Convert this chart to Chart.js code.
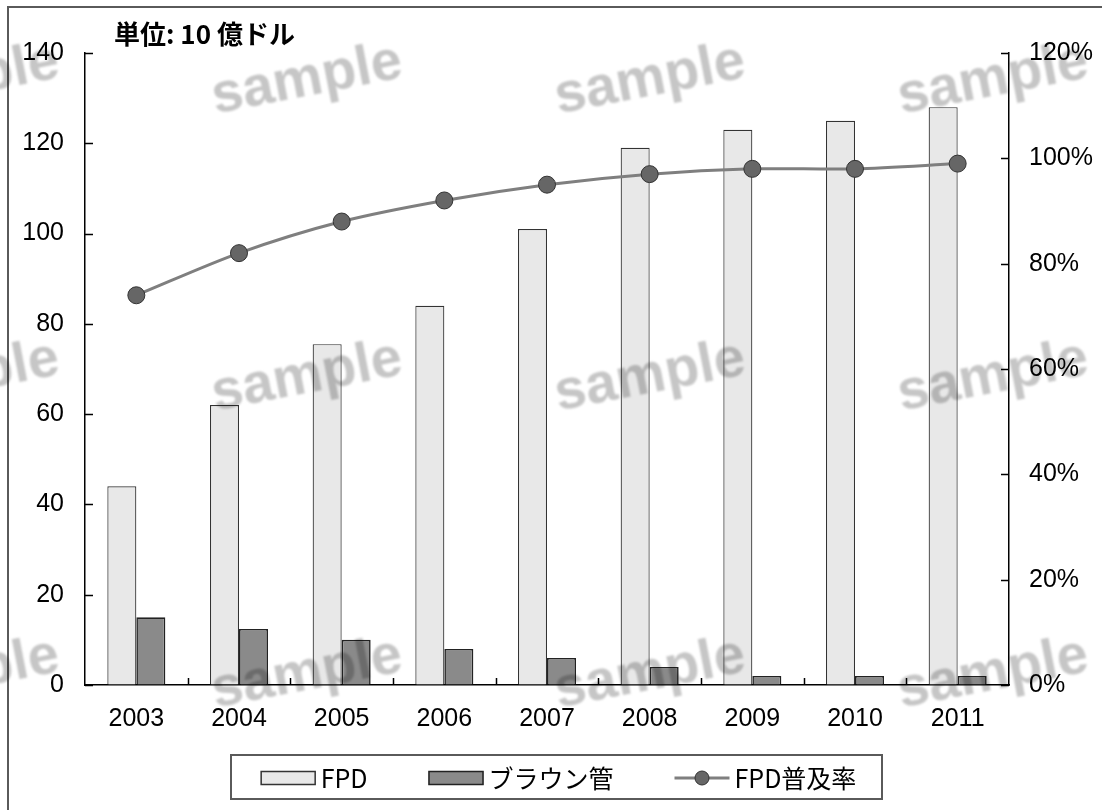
<!DOCTYPE html>
<html>
<head>
<meta charset="utf-8">
<script src="https://cdn.jsdelivr.net/npm/chart.js@4"></script>
<style>
  html, body { margin: 0; padding: 0; background: #fff; }
  #wrap { width: 1102px; height: 810px; position: relative; }
</style>
</head>
<body>
<div id="wrap"><canvas id="c" width="1102" height="810"></canvas></div>
<script>
// ---- data ----
const years = ['2003', '2004', '2005', '2006', '2007', '2008', '2009', '2010', '2011'];
const fpdSales = [44, 62, 75.5, 84, 101, 119, 123, 125, 128];      // 10億ドル
const crtSales = [15, 12.4, 10, 8, 6, 4, 2, 2, 2];                // 10億ドル
const fpdShare = [74, 82, 88, 92, 95, 97, 98, 98, 99];            // %
const leftTicks = [0, 20, 40, 60, 80, 100, 120, 140];
const rightTicks = [0, 20, 40, 60, 80, 100, 120];
const seriesNames = ['FPD', 'ブラウン管', 'FPD普及率'];
const unitLabel = '単位: 10 億ドル';
const stampText = 'sample';

const NUM_FONT = '"Liberation Sans", Arial, sans-serif';
const JP_FONT = '"Noto Sans CJK JP", "Noto Sans", sans-serif';

// outer frame + unit caption
const framePlugin = {
  id: 'frame',
  beforeDraw(chart) {
    const ctx = chart.ctx;
    ctx.save();
    ctx.fillStyle = '#fff';
    ctx.fillRect(0, 0, chart.width, chart.height);
    ctx.strokeStyle = '#5a5a5a';
    ctx.lineWidth = 2;
    ctx.strokeRect(8, 7, chart.width + 20, chart.height + 20);
    ctx.restore();
  },
  afterDraw(chart) {
    const ctx = chart.ctx;
    ctx.save();
    ctx.fillStyle = '#000';
    ctx.font = 'bold 26px ' + JP_FONT;
    ctx.textBaseline = 'middle';
    ctx.textAlign = 'left';
    ctx.fillText(unitLabel, 114, 34);
    ctx.restore();
  }
};

// inward tick marks on all three axes
const tickPlugin = {
  id: 'inTicks',
  afterDatasetsDraw(chart) {
    const ctx = chart.ctx;
    const { x, y, y2 } = chart.scales;
    ctx.save();
    ctx.strokeStyle = '#000';
    ctx.lineWidth = 1.5;
    ctx.beginPath();
    leftTicks.forEach(v => {
      const py = Math.round(y.getPixelForValue(v)) + 0.5;
      ctx.moveTo(y.right, py); ctx.lineTo(y.right + 8, py);
    });
    rightTicks.forEach(v => {
      const py = Math.round(y2.getPixelForValue(v)) + 0.5;
      ctx.moveTo(y2.left, py); ctx.lineTo(y2.left - 8, py);
    });
    for (let i = 1; i < years.length; i++) {
      const px = Math.round((x.getPixelForValue(i - 1) + x.getPixelForValue(i)) / 2) + 0.5;
      ctx.moveTo(px, x.top); ctx.lineTo(px, x.top - 7);
    }
    ctx.stroke();
    ctx.restore();
  }
};

// boxed legend below the plot
const legendPlugin = {
  id: 'boxLegend',
  afterDraw(chart) {
    const ctx = chart.ctx;
    const box = { l: 231, t: 755, r: 882, b: 799 };
    const sw = 55, sh = 14, gapText = 5, gapItem = 61;
    const cy = (box.t + box.b) / 2 + 1;
    ctx.save();
    ctx.strokeStyle = '#5a5a5a';
    ctx.lineWidth = 2;
    ctx.strokeRect(box.l, box.t, box.r - box.l, box.b - box.t);
    ctx.font = '25px ' + JP_FONT;
    ctx.textBaseline = 'middle';
    ctx.fillStyle = '#000';
    const ds = chart.data.datasets;
    const widths = ds.map(d => sw + gapText + ctx.measureText(d.label).width);
    const total = widths.reduce((a, b) => a + b, 0) + gapItem * (ds.length - 1);
    let xPos = (box.l + box.r) / 2 - total / 2 + 2;
    ds.forEach((d, i) => {
      if (d.type === 'line') {
        ctx.strokeStyle = d.borderColor;
        ctx.lineWidth = 3;
        ctx.beginPath();
        ctx.moveTo(xPos, cy); ctx.lineTo(xPos + sw, cy);
        ctx.stroke();
        ctx.beginPath();
        ctx.arc(xPos + sw / 2, cy, 7, 0, Math.PI * 2);
        ctx.fillStyle = d.pointBackgroundColor;
        ctx.fill();
        ctx.lineWidth = 1;
        ctx.strokeStyle = d.pointBorderColor;
        ctx.stroke();
      } else {
        ctx.fillStyle = d.backgroundColor;
        ctx.fillRect(xPos, cy - sh / 2, sw, sh);
        ctx.strokeStyle = d.borderColor;
        ctx.lineWidth = 1.5;
        ctx.strokeRect(xPos + 0.5, cy - sh / 2 + 0.5, sw - 1, sh - 1);
      }
      ctx.fillStyle = '#000';
      ctx.fillText(d.label, xPos + sw + gapText, cy);
      xPos += widths[i] + gapItem;
    });
    ctx.restore();
  }
};

// faint stamp text laid over the whole figure
const stampPlugin = {
  id: 'stamp',
  afterDraw(chart) {
    const ctx = chart.ctx;
    ctx.save();
    ctx.globalCompositeOperation = 'multiply';
    ctx.filter = 'blur(1px)';
    ctx.fillStyle = '#c6c6c6';
    ctx.font = 'bold 56px "Liberation Sans", Arial, sans-serif';
    ctx.textAlign = 'center';
    ctx.textBaseline = 'middle';
    for (let r = 0; r < 3; r++) {
      for (let c = 0; c < 4; c++) {
        const cx = -36 + 343 * c;
        const cy = 80 + 297 * r;
        ctx.save();
        ctx.translate(cx, cy);
        ctx.rotate(-11 * Math.PI / 180);
        ctx.fillText(stampText, 0, 0);
        ctx.restore();
      }
    }
    ctx.restore();
  }
};

const barDatasets = [
  {
    type: 'bar',
    label: seriesNames[0],
    data: fpdSales,
    yAxisID: 'y',
    order: 1,
    backgroundColor: '#e8e8e8',
    borderColor: '#333333',
    borderWidth: 1.2,
    barPercentage: 1.0,
    categoryPercentage: 0.565
  },
  {
    type: 'bar',
    label: seriesNames[1],
    data: crtSales,
    yAxisID: 'y',
    order: 1,
    backgroundColor: '#8a8a8a',
    borderColor: '#222222',
    borderWidth: 1.6,
    barPercentage: 1.0,
    categoryPercentage: 0.565
  }
];
const lineDataset = {
  type: 'line',
  label: seriesNames[2],
  data: fpdShare,
  yAxisID: 'y2',
  order: 0,
  borderColor: '#7f7f7f',
  borderWidth: 3,
  tension: 0.3,
  pointRadius: 8.5,
  pointBackgroundColor: '#666666',
  pointBorderColor: '#333333',
  pointBorderWidth: 1,
  fill: false
};

new Chart(document.getElementById('c'), {
  data: {
    labels: years,
    datasets: [...barDatasets, lineDataset]
  },
  options: {
    responsive: false,
    animation: false,
    devicePixelRatio: 1,
    layout: { padding: { left: 0, right: 0, top: 53, bottom: 0 } },
    plugins: {
      legend: { display: false },
      title: { display: false },
      tooltip: { enabled: false }
    },
    scales: {
      x: {
        type: 'category',
        offset: true,
        grid: { display: false, drawTicks: false },
        border: { display: true, color: '#000', width: 1.5 },
        ticks: { color: '#000', font: { family: NUM_FONT, size: 25 }, padding: 19, maxRotation: 0 },
        afterFit(s) { s.height = 125; }
      },
      y: {
        position: 'left',
        min: 0, max: 140,
        afterBuildTicks(s) { s.ticks = leftTicks.map(v => ({ value: v })); },
        grid: { drawOnChartArea: false, drawTicks: false },
        border: { display: true, color: '#000', width: 1.5 },
        ticks: { color: '#000', font: { family: NUM_FONT, size: 25 }, padding: 21 },
        afterFit(s) { s.width = 85; }
      },
      y2: {
        position: 'right',
        min: 0, max: 120,
        afterBuildTicks(s) { s.ticks = rightTicks.map(v => ({ value: v })); },
        grid: { drawOnChartArea: false, drawTicks: false },
        border: { display: true, color: '#000', width: 1.5 },
        ticks: { color: '#000', font: { family: NUM_FONT, size: 25 }, padding: 20, callback: v => v + '%' },
        afterFit(s) { s.width = 93; }
      }
    }
  },
  plugins: [framePlugin, tickPlugin, legendPlugin, stampPlugin]
});
</script>
</body>
</html>
